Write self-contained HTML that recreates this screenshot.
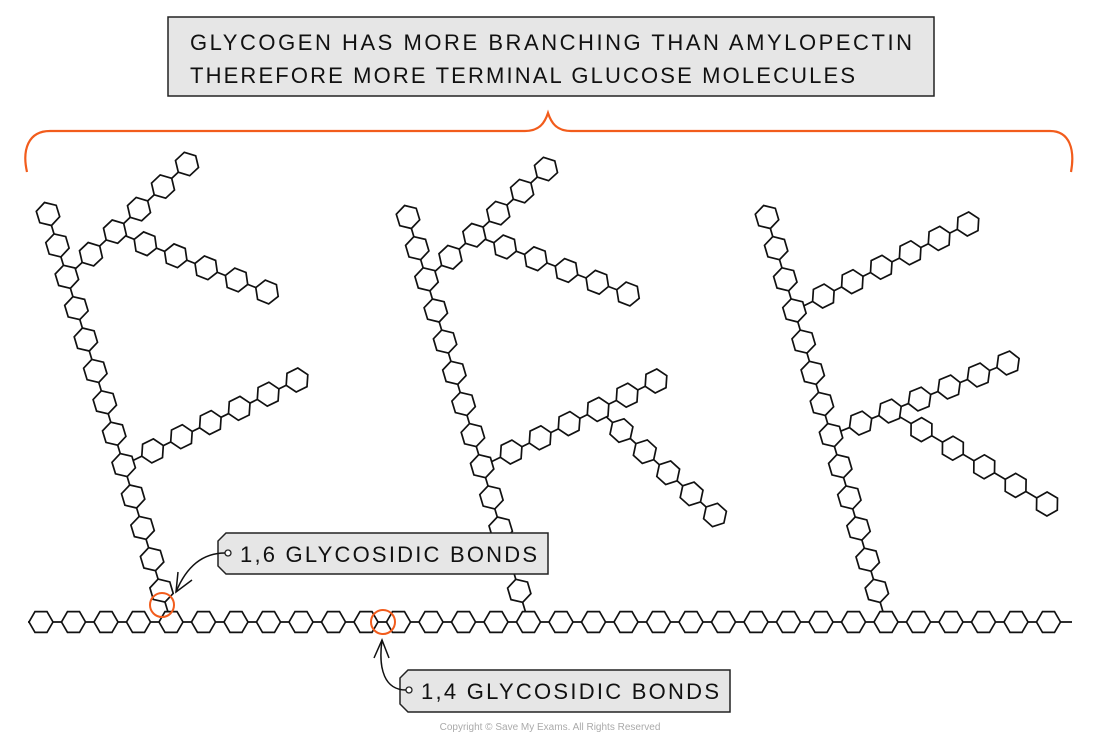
<!DOCTYPE html>
<html><head><meta charset="utf-8"><style>
html,body{margin:0;padding:0;background:#fff;}
svg{display:block;}
text{font-family:"Liberation Sans",sans-serif;fill:#111;}
</style></head><body>
<svg id="s" width="1100" height="738" viewBox="0 0 1100 738" xmlns="http://www.w3.org/2000/svg">
<rect width="1100" height="738" fill="#fff"/>
<rect x="168" y="17" width="766" height="79" fill="#e6e6e6" stroke="#222" stroke-width="1.5"/>
<text x="190" y="50" font-size="22" textLength="722" lengthAdjust="spacing">GLYCOGEN  HAS  MORE  BRANCHING  THAN  AMYLOPECTIN</text>
<text x="190" y="83" font-size="22" textLength="665" lengthAdjust="spacing">THEREFORE  MORE  TERMINAL  GLUCOSE  MOLECULES</text>
<path d="M27,172 C22,150 28,131 50,131 L525,131 C540,131 545,122 548,113 C551,122 556,131 571,131 L1050,131 C1070,131 1075,150 1071,172" fill="none" stroke="#f25c1c" stroke-width="2.2"/>
<g id="mol" stroke="#111" stroke-width="1.7" fill="#fff"></g>
<circle cx="162" cy="605" r="12" fill="none" stroke="#f25c1c" stroke-width="2"/>
<circle cx="383" cy="622" r="12" fill="none" stroke="#f25c1c" stroke-width="2"/>
<path d="M226,533 L548,533 L548,574 L226,574 L218,566 L218,541 Z" fill="#e6e6e6" stroke="#222" stroke-width="1.5"/>
<circle cx="228" cy="553" r="3" fill="#fff" stroke="#222" stroke-width="1.3"/>
<text x="240" y="562" font-size="22" textLength="297" lengthAdjust="spacing">1,6  GLYCOSIDIC  BONDS</text>
<path d="M225,553 C200,553 185,570 176,592" fill="none" stroke="#111" stroke-width="1.5"/>
<path d="M178,572 L176,592 L192,580" fill="none" stroke="#111" stroke-width="1.5"/>
<path d="M408,670 L730,670 L730,712 L408,712 L400,704 L400,678 Z" fill="#e6e6e6" stroke="#222" stroke-width="1.5"/>
<circle cx="409" cy="690" r="3" fill="#fff" stroke="#222" stroke-width="1.3"/>
<text x="421" y="699" font-size="22" textLength="298" lengthAdjust="spacing">1,4  GLYCOSIDIC  BONDS</text>
<path d="M406,690 C385,690 378,670 382,640" fill="none" stroke="#111" stroke-width="1.5"/>
<path d="M374,658 L382,640 L389,658" fill="none" stroke="#111" stroke-width="1.5"/>
<text x="550" y="730" font-size="10" style="fill:#aaa" text-anchor="middle">Copyright © Save My Exams. All Rights Reserved</text>
</svg>
<script>
(function(){
var g=document.getElementById('mol'),lines='',hexes='';
function hex(x,y,a){var p=[];for(var i=0;i<6;i++){var t=a+i*Math.PI/3;p.push((x+12*Math.cos(t)).toFixed(1)+','+(y+12*Math.sin(t)).toFixed(1));}
hexes+='<polygon points="'+p.join(' ')+'"/>';}
function chain(x0,y0,x1,y1,n){var P=[],a=Math.atan2(y1-y0,x1-x0);
lines+='<line x1="'+x0+'" y1="'+y0+'" x2="'+x1+'" y2="'+y1+'"/>';
for(var k=0;k<=n;k++){var x=x0+(x1-x0)*k/n,y=y0+(y1-y0)*k/n;P.push([x,y]);if(k>0)hex(x,y,a);}return P;}
lines+='<line x1="28" y1="622" x2="1072" y2="622"/>';
for(var i=0;i<32;i++)hex(41+32.5*i,622,0);
function mx(i){return 41+32.5*i;}
var s1=chain(mx(4),622,48,214,13);
var b=chain(s1[11][0],s1[11][1],187,164,5);
chain(b[2][0],b[2][1],267,292,5);
chain(s1[5][0],s1[5][1],297,380,6);
var s2=chain(mx(15),622,408,217,13);
b=chain(s2[11][0],s2[11][1],546,169,5);
chain(b[2][0],b[2][1],628,294,5);
b=chain(s2[5][0],s2[5][1],656,381,6);
chain(b[4][0],b[4][1],715,515,5);
var s3=chain(mx(26),622,767,217,13);
chain(s3[10][0],s3[10][1],968,224,6);
b=chain(s3[6][0],s3[6][1],1008,363,6);
chain(b[2][0],b[2][1],1047,504,5);
g.innerHTML=lines+hexes;
})();
</script>
</body></html>
